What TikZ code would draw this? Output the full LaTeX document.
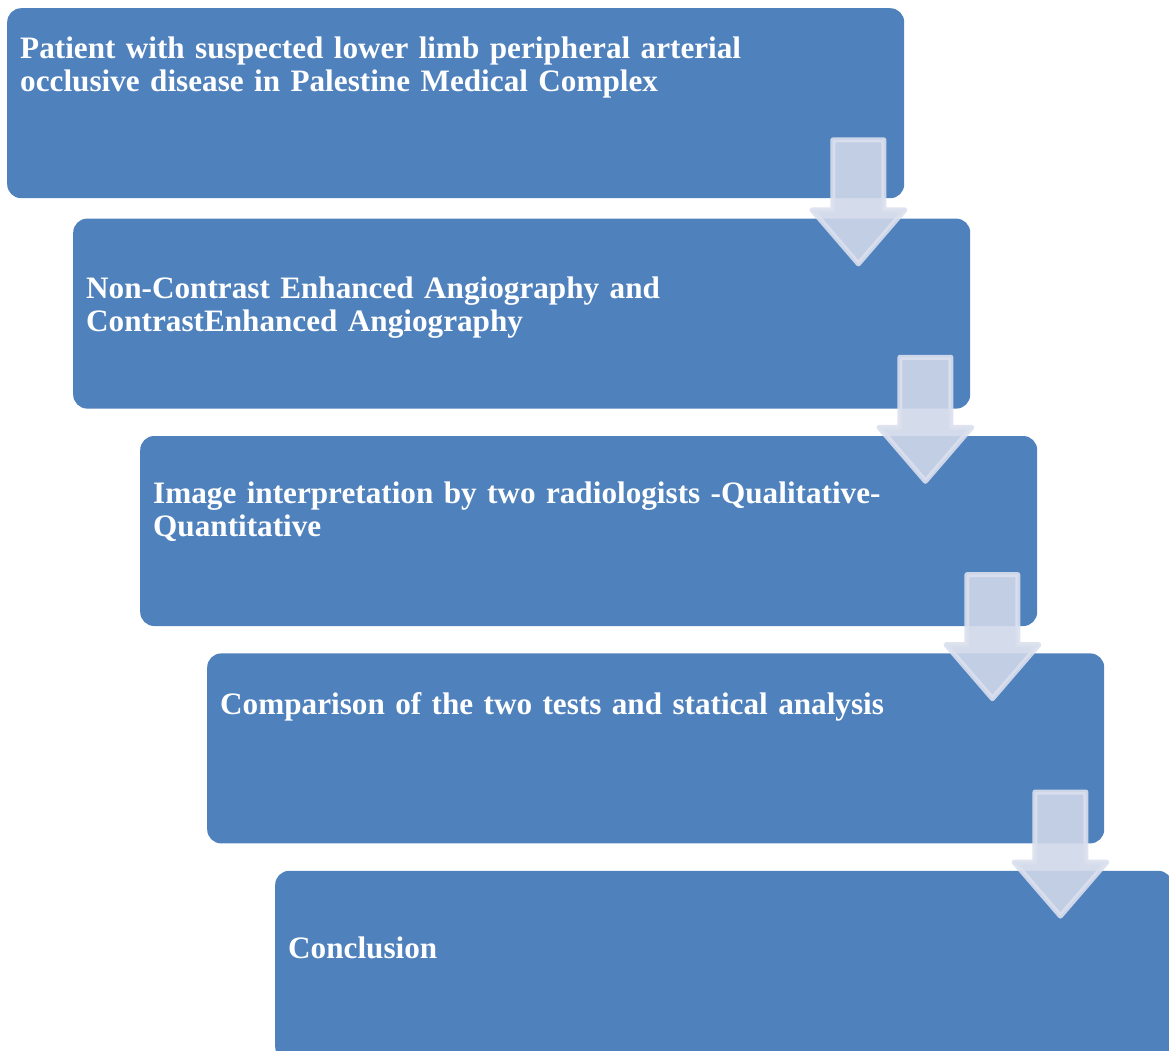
\documentclass[tikz,border=0pt]{standalone}
\usepackage{fontspec}
\setmainfont{Liberation Serif}
\usepackage{tikz}
\usetikzlibrary{positioning}
\definecolor{boxblue}{RGB}{79,129,189}
\definecolor{arrowfill}{RGB}{207,215,233}
\definecolor{arrowline}{RGB}{219,224,238}
\tikzset{
    stepbox/.style={fill=boxblue, rounded corners=14pt, minimum width=897pt, minimum height=190pt, inner sep=0pt, anchor=north west}, % the blue process boxes
    steptext/.style={text=white, font=\fontsize{31.2}{33}\selectfont\bfseries, text width=870pt, align=left, inner sep=0pt, anchor=base west}, % white labels
    blockarrow/.style={fill=arrowfill, draw=arrowline, line width=5pt, line join=round, fill opacity=0.9, draw opacity=0.9}, % the light down arrows
}
\begin{document}
\begin{tikzpicture}
    \clip (0,0) rectangle (1169pt,-1051pt);
    \node[stepbox] (b1) at (7pt,-8pt) {};
    \node[stepbox, below=20pt of b1.south west, anchor=north west, xshift=66pt] (b2) {};
    \node[stepbox, below=27pt of b2.south west, anchor=north west, xshift=67pt] (b3) {};
    \node[stepbox, below=27pt of b3.south west, anchor=north west, xshift=67pt] (b4) {};
    \node[stepbox, below=27pt of b4.south west, anchor=north west, xshift=68pt] (b5) {};
    \node[steptext] (t1) at ([shift={(13pt,-51pt)}]b1.north west) {Patient with suspected lower limb peripheral arterial\\occlusive disease in Palestine Medical Complex};
    \node[steptext] (t2) at ([shift={(13pt,-80pt)}]b2.north west) {Non-Contrast Enhanced Angiography and\\ContrastEnhanced Angiography};
    \node[steptext] (t3) at ([shift={(13pt,-68pt)}]b3.north west) {Image interpretation by two radiologists -Qualitative-\\Quantitative};
    \node[steptext] (t4) at ([shift={(13pt,-61pt)}]b4.north west) {Comparison of the two tests and statical analysis};
    \node[steptext] (t5) at ([shift={(13pt,-88pt)}]b5.north west) {Conclusion};
    % down arrows, each one sits on the top right of the next box
    \foreach \k in {2,...,5}{
        \begin{scope}[shift={(b\k.north east)}]
            \draw[blockarrow] (-137.5pt,78.5pt) -- (-86.5pt,78.5pt) -- (-86.5pt,8.5pt) -- (-65.5pt,8.5pt)
                -- (-112pt,-45.5pt) -- (-158.5pt,8.5pt) -- (-137.5pt,8.5pt) -- cycle;
        \end{scope}
    }
\end{tikzpicture}
\end{document}
